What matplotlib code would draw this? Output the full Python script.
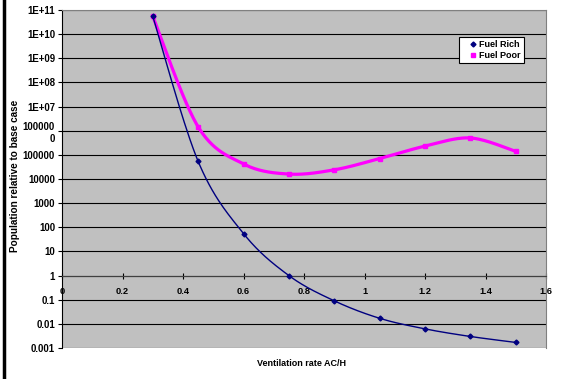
import matplotlib
matplotlib.use("Agg")
import matplotlib.pyplot as plt
import numpy as np
from matplotlib.lines import Line2D

plt.rcParams["font.family"] = ["Liberation Sans", "DejaVu Sans"]
plt.rcParams["font.weight"] = "bold"

# data
vent = [0.3, 0.45, 0.6, 0.75, 0.9, 1.05, 1.2, 1.35, 1.5]
fuel_rich = [5.5e10, 5.4e4, 55, 1.0, 0.09, 0.017, 0.0062, 0.003, 0.0017]
fuel_poor = [5.5e10, 1.45e6, 4.2e4, 1.6e4, 2.4e4, 7e4, 2.3e5, 5e5, 1.4e5]
ytick_vals = [10.0 ** k for k in range(-3, 12)]
ytick_labels = ["0.001", "0.01", "0.1", "1", "10", "100", "1000", "10000",
                "100000", "100000\n0", "1E+07", "1E+08", "1E+09", "1E+10", "1E+11"]
xtick_vals = [0, 0.2, 0.4, 0.6, 0.8, 1.0, 1.2, 1.4, 1.6]
xtick_labels = ["0", "0.2", "0.4", "0.6", "0.8", "1", "1.2", "1.4", "1.6"]


def smooth(x, y, n=30):
    # Excel-like smoothing: uniform Catmull-Rom in (x, log y)
    p = np.column_stack([x, np.log10(y)])
    p = np.vstack([p[0], p, p[-1]])
    out = []
    t = np.linspace(0, 1, n)[:, None]
    for i in range(1, len(p) - 2):
        p0, p1, p2, p3 = p[i - 1], p[i], p[i + 1], p[i + 2]
        c = (0.5 * ((2 * p1) + (-p0 + p2) * t + (2 * p0 - 5 * p1 + 4 * p2 - p3) * t ** 2
                    + (-p0 + 3 * p1 - 3 * p2 + p3) * t ** 3))
        out.append(c)
    c = np.vstack(out)
    return c[:, 0], 10 ** c[:, 1]


fig = plt.figure(figsize=(5.69, 3.79), dpi=100)
ax = fig.add_axes([62 / 569, 1 - 348 / 379, (546 - 62) / 569, (348 - 10) / 379])
ax.set_facecolor("#C0C0C0")

ax.set_yscale("log")
ax.set_ylim(1e-3, 1e11)
ax.set_xlim(0, 1.6)

for v in ytick_vals:
    ax.axhline(v, color="black", lw=0.8, zorder=1)

sx, sy = smooth(vent, fuel_rich)
ax.plot(sx, sy, color="#000080", lw=1.0, zorder=3)
ax.plot(vent, fuel_rich, ls="none", marker="D", ms=2.5, color="#000080", zorder=4)
sx, sy = smooth(vent, fuel_poor)
ax.plot(sx, sy, color="#FF00FF", lw=2.3, zorder=2)
ax.plot(vent, fuel_poor, ls="none", marker="s", ms=3, color="#FF00FF", zorder=2)

ax.set_yticks(ytick_vals)
ax.set_yticklabels(ytick_labels, fontsize=6.9, fontweight="bold", linespacing=1.3)
ax.yaxis.set_minor_locator(matplotlib.ticker.NullLocator())
ax.tick_params(axis="y", direction="out", length=3, width=0.8, pad=2)

ax.spines["bottom"].set_position(("data", 1))
ax.spines["bottom"].set_color("#404040")
ax.set_xticks(xtick_vals)
ax.set_xticklabels(xtick_labels, fontsize=6.7, fontweight="bold")
ax.tick_params(axis="x", direction="inout", length=4, width=0.8, pad=6)
for s in ("top", "right"):
    ax.spines[s].set_color("#808080")
ax.spines["left"].set_color("black")

fig.text(15 / 569, 1 - 176 / 379, "Population relative to base case", rotation=90,
         fontsize=7.2, fontweight="bold", ha="center", va="center")
fig.text(302 / 569, 1 - 364 / 379, "Ventilation rate AC/H", fontsize=6.5,
         fontweight="bold", ha="center", va="center")

handles = [Line2D([], [], ls="none", marker="D", ms=2.5, color="#000080"),
           Line2D([], [], ls="none", marker="s", ms=3, color="#FF00FF")]
leg = ax.legend(handles, ["Fuel Rich", "Fuel Poor"], loc="upper left",
                bbox_to_anchor=((459 - 62) / 484, (348 - 37) / 338),
                borderaxespad=0, prop={"size": 6.5, "weight": "bold"},
                fancybox=False, edgecolor="black", framealpha=1,
                handlelength=2.3, handletextpad=-0.4, borderpad=0.35,
                labelspacing=0.2)
leg.get_frame().set_linewidth(0.8)

fig.add_artist(Line2D([4 / 569, 4 / 569], [0, 1], color="black", lw=2.5,
                      transform=fig.transFigure))

fig.savefig("out.png", dpi=100)
